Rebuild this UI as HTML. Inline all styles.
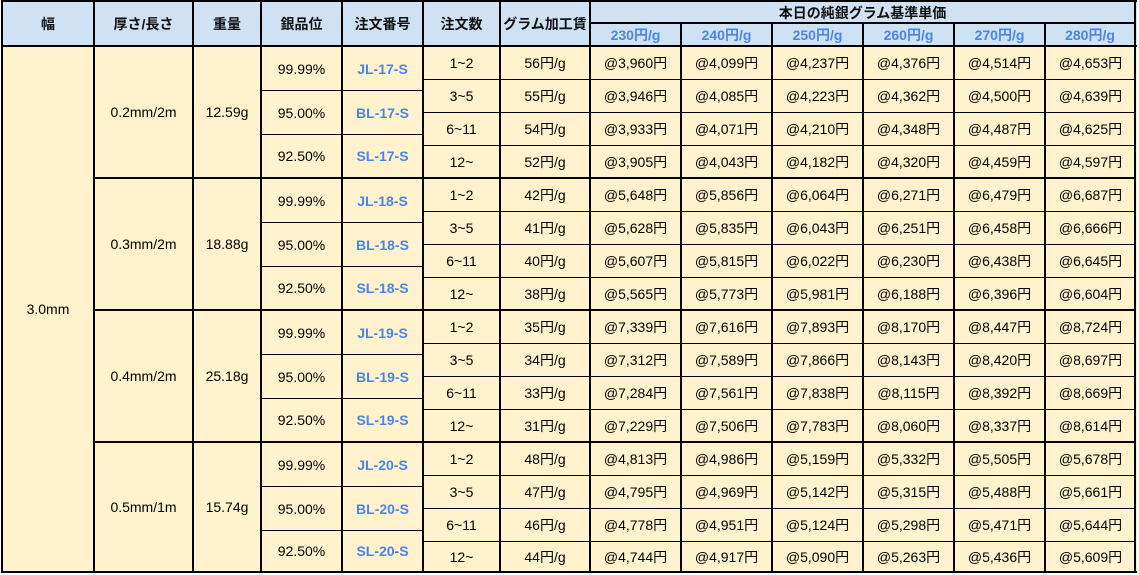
<!DOCTYPE html>
<html><head><meta charset="utf-8">
<style>
body{margin:0;width:1139px;height:575px;background:#fff;position:relative;overflow:hidden;font-family:"Liberation Sans","Noto Sans CJK JP",sans-serif;font-size:14px;color:#000}
.t{position:absolute;display:flex;align-items:center;justify-content:center;white-space:nowrap}
.b{font-weight:bold;color:#111}
.bl{color:#4a86e8;font-weight:bold}
.k{position:absolute;background:#000}
.g{position:absolute;left:0;width:1139px;height:132px}
.r{position:absolute;left:423px;display:flex;height:32px}
.r span{width:91px;height:100%;display:flex;align-items:center;justify-content:center;white-space:nowrap}
.r span:first-child{width:77px}
.r span:nth-child(2){width:90px}
</style></head><body>
<div style="position:absolute;left:1px;top:0;width:1136px;height:46px;background:#cfe2f3"></div>
<div style="position:absolute;left:1px;top:46px;width:1136px;height:527px;background:#fff2cc"></div>

<!-- header -->
<div class="t b" style="left:3px;top:2px;width:90px;height:44px">幅</div>
<div class="t b" style="left:95px;top:2px;width:97px;height:44px">厚さ/長さ</div>
<div class="t b" style="left:194px;top:2px;width:66px;height:44px">重量</div>
<div class="t b" style="left:262px;top:2px;width:79px;height:44px">銀品位</div>
<div class="t b" style="left:343px;top:2px;width:79px;height:44px">注文番号</div>
<div class="t b" style="left:424px;top:2px;width:75px;height:44px">注文数</div>
<div class="t b" style="left:501px;top:2px;width:88px;height:44px">グラム加工賃</div>
<div class="t b" style="left:591px;top:2px;width:543px;height:21px;font-size:14px">本日の純銀グラム基準単価</div>
<div class="t bl" style="left:591px;top:24px;width:89px;height:21px">230円/g</div>
<div class="t bl" style="left:682px;top:24px;width:89px;height:21px">240円/g</div>
<div class="t bl" style="left:773px;top:24px;width:89px;height:21px">250円/g</div>
<div class="t bl" style="left:864px;top:24px;width:89px;height:21px">260円/g</div>
<div class="t bl" style="left:955px;top:24px;width:89px;height:21px">270円/g</div>
<div class="t bl" style="left:1046px;top:24px;width:88px;height:21px">280円/g</div>

<div class="t" style="left:3px;top:47px;width:90px;height:524px">3.0mm</div>

<!-- group 1 -->
<div class="g" style="top:45px">
<div class="t" style="left:95px;top:2px;width:97px;height:130px">0.2mm/2m</div>
<div class="t" style="left:194px;top:2px;width:66px;height:130px">12.59g</div>
<div class="t" style="left:262px;top:2px;width:79px;height:43px">99.99%</div>
<div class="t" style="left:262px;top:46px;width:79px;height:43px">95.00%</div>
<div class="t" style="left:262px;top:90px;width:79px;height:42px">92.50%</div>
<div class="t bl" style="left:343px;top:2px;width:79px;height:43px">JL-17-S</div>
<div class="t bl" style="left:343px;top:46px;width:79px;height:43px">BL-17-S</div>
<div class="t bl" style="left:343px;top:90px;width:79px;height:42px">SL-17-S</div>
<div class="r" style="top:2px"><span>1~2</span><span>56円/g</span><span>@3,960円</span><span>@4,099円</span><span>@4,237円</span><span>@4,376円</span><span>@4,514円</span><span>@4,653円</span></div>
<div class="r" style="top:35px"><span>3~5</span><span>55円/g</span><span>@3,946円</span><span>@4,085円</span><span>@4,223円</span><span>@4,362円</span><span>@4,500円</span><span>@4,639円</span></div>
<div class="r" style="top:68px"><span>6~11</span><span>54円/g</span><span>@3,933円</span><span>@4,071円</span><span>@4,210円</span><span>@4,348円</span><span>@4,487円</span><span>@4,625円</span></div>
<div class="r" style="top:101px;height:31px"><span>12~</span><span>52円/g</span><span>@3,905円</span><span>@4,043円</span><span>@4,182円</span><span>@4,320円</span><span>@4,459円</span><span>@4,597円</span></div>
</div>

<!-- group 2 -->
<div class="g" style="top:177px">
<div class="t" style="left:95px;top:2px;width:97px;height:130px">0.3mm/2m</div>
<div class="t" style="left:194px;top:2px;width:66px;height:130px">18.88g</div>
<div class="t" style="left:262px;top:2px;width:79px;height:43px">99.99%</div>
<div class="t" style="left:262px;top:46px;width:79px;height:43px">95.00%</div>
<div class="t" style="left:262px;top:90px;width:79px;height:42px">92.50%</div>
<div class="t bl" style="left:343px;top:2px;width:79px;height:43px">JL-18-S</div>
<div class="t bl" style="left:343px;top:46px;width:79px;height:43px">BL-18-S</div>
<div class="t bl" style="left:343px;top:90px;width:79px;height:42px">SL-18-S</div>
<div class="r" style="top:2px"><span>1~2</span><span>42円/g</span><span>@5,648円</span><span>@5,856円</span><span>@6,064円</span><span>@6,271円</span><span>@6,479円</span><span>@6,687円</span></div>
<div class="r" style="top:35px"><span>3~5</span><span>41円/g</span><span>@5,628円</span><span>@5,835円</span><span>@6,043円</span><span>@6,251円</span><span>@6,458円</span><span>@6,666円</span></div>
<div class="r" style="top:68px"><span>6~11</span><span>40円/g</span><span>@5,607円</span><span>@5,815円</span><span>@6,022円</span><span>@6,230円</span><span>@6,438円</span><span>@6,645円</span></div>
<div class="r" style="top:101px;height:31px"><span>12~</span><span>38円/g</span><span>@5,565円</span><span>@5,773円</span><span>@5,981円</span><span>@6,188円</span><span>@6,396円</span><span>@6,604円</span></div>
</div>

<!-- group 3 -->
<div class="g" style="top:309px">
<div class="t" style="left:95px;top:2px;width:97px;height:130px">0.4mm/2m</div>
<div class="t" style="left:194px;top:2px;width:66px;height:130px">25.18g</div>
<div class="t" style="left:262px;top:2px;width:79px;height:43px">99.99%</div>
<div class="t" style="left:262px;top:46px;width:79px;height:43px">95.00%</div>
<div class="t" style="left:262px;top:90px;width:79px;height:42px">92.50%</div>
<div class="t bl" style="left:343px;top:2px;width:79px;height:43px">JL-19-S</div>
<div class="t bl" style="left:343px;top:46px;width:79px;height:43px">BL-19-S</div>
<div class="t bl" style="left:343px;top:90px;width:79px;height:42px">SL-19-S</div>
<div class="r" style="top:2px"><span>1~2</span><span>35円/g</span><span>@7,339円</span><span>@7,616円</span><span>@7,893円</span><span>@8,170円</span><span>@8,447円</span><span>@8,724円</span></div>
<div class="r" style="top:35px"><span>3~5</span><span>34円/g</span><span>@7,312円</span><span>@7,589円</span><span>@7,866円</span><span>@8,143円</span><span>@8,420円</span><span>@8,697円</span></div>
<div class="r" style="top:68px"><span>6~11</span><span>33円/g</span><span>@7,284円</span><span>@7,561円</span><span>@7,838円</span><span>@8,115円</span><span>@8,392円</span><span>@8,669円</span></div>
<div class="r" style="top:101px;height:31px"><span>12~</span><span>31円/g</span><span>@7,229円</span><span>@7,506円</span><span>@7,783円</span><span>@8,060円</span><span>@8,337円</span><span>@8,614円</span></div>
</div>

<!-- group 4 -->
<div class="g" style="top:441px">
<div class="t" style="left:95px;top:2px;width:97px;height:128px">0.5mm/1m</div>
<div class="t" style="left:194px;top:2px;width:66px;height:128px">15.74g</div>
<div class="t" style="left:262px;top:2px;width:79px;height:43px">99.99%</div>
<div class="t" style="left:262px;top:46px;width:79px;height:43px">95.00%</div>
<div class="t" style="left:262px;top:90px;width:79px;height:40px">92.50%</div>
<div class="t bl" style="left:343px;top:2px;width:79px;height:43px">JL-20-S</div>
<div class="t bl" style="left:343px;top:46px;width:79px;height:43px">BL-20-S</div>
<div class="t bl" style="left:343px;top:90px;width:79px;height:40px">SL-20-S</div>
<div class="r" style="top:2px"><span>1~2</span><span>48円/g</span><span>@4,813円</span><span>@4,986円</span><span>@5,159円</span><span>@5,332円</span><span>@5,505円</span><span>@5,678円</span></div>
<div class="r" style="top:35px"><span>3~5</span><span>47円/g</span><span>@4,795円</span><span>@4,969円</span><span>@5,142円</span><span>@5,315円</span><span>@5,488円</span><span>@5,661円</span></div>
<div class="r" style="top:68px"><span>6~11</span><span>46円/g</span><span>@4,778円</span><span>@4,951円</span><span>@5,124円</span><span>@5,298円</span><span>@5,471円</span><span>@5,644円</span></div>
<div class="r" style="top:101px;height:29px"><span>12~</span><span>44円/g</span><span>@4,744円</span><span>@4,917円</span><span>@5,090円</span><span>@5,263円</span><span>@5,436円</span><span>@5,609円</span></div>
</div>

<!-- lines -->
<div class="k" style="left:1px;top:0;width:1136px;height:2px"></div>
<div class="k" style="left:1px;top:571px;width:1136px;height:2px"></div>
<div class="k" style="left:1px;top:0;width:2px;height:573px"></div>
<div class="k" style="left:1134px;top:0;width:2px;height:573px"></div>
<div class="k" style="left:1px;top:45px;width:1136px;height:2px"></div>

<div class="k" style="left:93px;top:0;width:2px;height:573px"></div>
<div class="k" style="left:192px;top:0;width:2px;height:573px"></div>
<div class="k" style="left:260px;top:0;width:2px;height:573px"></div>
<div class="k" style="left:341px;top:0;width:2px;height:573px"></div>
<div class="k" style="left:422px;top:0;width:2px;height:573px"></div>
<div class="k" style="left:499px;top:0;width:2px;height:573px"></div>
<div class="k" style="left:589px;top:0;width:2px;height:573px"></div>

<div class="k" style="left:589px;top:22px;width:547px;height:2px"></div>
<div class="k" style="left:680px;top:22px;width:2px;height:551px"></div>
<div class="k" style="left:771px;top:22px;width:2px;height:551px"></div>
<div class="k" style="left:862px;top:22px;width:2px;height:551px"></div>
<div class="k" style="left:953px;top:22px;width:2px;height:551px"></div>
<div class="k" style="left:1044px;top:22px;width:2px;height:551px"></div>

<div class="k" style="left:93px;top:177px;width:1043px;height:2px"></div>
<div class="k" style="left:93px;top:309px;width:1043px;height:2px"></div>
<div class="k" style="left:93px;top:441px;width:1043px;height:2px"></div>

<div class="k" style="left:422px;top:79px;width:714px;height:1px"></div>
<div class="k" style="left:422px;top:112px;width:714px;height:1px"></div>
<div class="k" style="left:422px;top:145px;width:714px;height:1px"></div>
<div class="k" style="left:422px;top:211px;width:714px;height:1px"></div>
<div class="k" style="left:422px;top:244px;width:714px;height:1px"></div>
<div class="k" style="left:422px;top:277px;width:714px;height:1px"></div>
<div class="k" style="left:422px;top:343px;width:714px;height:1px"></div>
<div class="k" style="left:422px;top:376px;width:714px;height:1px"></div>
<div class="k" style="left:422px;top:409px;width:714px;height:1px"></div>
<div class="k" style="left:422px;top:475px;width:714px;height:1px"></div>
<div class="k" style="left:422px;top:508px;width:714px;height:1px"></div>
<div class="k" style="left:422px;top:541px;width:714px;height:1px"></div>

<div class="k" style="left:260px;top:90px;width:162px;height:1px"></div>
<div class="k" style="left:260px;top:134px;width:162px;height:1px"></div>
<div class="k" style="left:260px;top:222px;width:162px;height:1px"></div>
<div class="k" style="left:260px;top:266px;width:162px;height:1px"></div>
<div class="k" style="left:260px;top:354px;width:162px;height:1px"></div>
<div class="k" style="left:260px;top:398px;width:162px;height:1px"></div>
<div class="k" style="left:260px;top:486px;width:162px;height:1px"></div>
<div class="k" style="left:260px;top:530px;width:162px;height:1px"></div>
</body></html>
